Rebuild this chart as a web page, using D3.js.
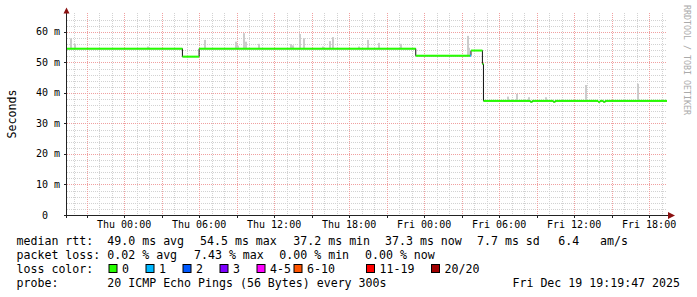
<!DOCTYPE html>
<html>
<head>
<meta charset="utf-8">
<style>
body { margin: 0; background: #fff; }
text { font-family: "DejaVu Sans Mono", monospace; fill: #000; }
.grid-minor line { stroke: #d2d2d2; stroke-dasharray: 1,1; }
.grid-major line { stroke: #f0a0a0; stroke-dasharray: 1,1; }
</style>
</head>
<body>
<svg width="697" height="297"></svg>
<script src="https://cdn.jsdelivr.net/npm/d3@7"></script>
<script>

// median rtt steps: value holds from its time until the next entry
var medianTimes = ["2025-12-17T19:26", "2025-12-18T04:40", "2025-12-18T06:00", "2025-12-18T23:20",
  "2025-12-19T03:40", "2025-12-19T03:45", "2025-12-19T04:40", "2025-12-19T04:45",
  "2025-12-19T08:30", "2025-12-19T08:40", "2025-12-19T10:20", "2025-12-19T10:30",
  "2025-12-19T13:55", "2025-12-19T14:05", "2025-12-19T14:20", "2025-12-19T14:30"];
var medianValues = [54.5, 51.9, 54.5, 52.2, 52.2, 53.9, 49.5, 37.4, 37.1, 37.4, 37.1, 37.4, 37.1, 37.4, 37.1, 37.4];
var medianLoss = [0, 0, 0, 0, 1, 0, 0, 0, 0, 0, 0, 0, 0, 0, 0, 0];

// smoke spikes: time and top of the spread (ms)
var smokeTimes = ["2025-12-17T19:40", "2025-12-17T20:00", "2025-12-18T01:50", "2025-12-18T06:25",
  "2025-12-18T08:50", "2025-12-18T09:00", "2025-12-18T09:30", "2025-12-18T09:40", "2025-12-18T10:45",
  "2025-12-18T13:15", "2025-12-18T13:25", "2025-12-18T14:00", "2025-12-18T14:20", "2025-12-18T15:50",
  "2025-12-18T16:25", "2025-12-18T16:40", "2025-12-18T18:45", "2025-12-18T19:25", "2025-12-18T20:20",
  "2025-12-18T22:05", "2025-12-19T03:25", "2025-12-19T03:30", "2025-12-19T06:40", "2025-12-19T07:20",
  "2025-12-19T08:20", "2025-12-19T09:40", "2025-12-19T12:50", "2025-12-19T17:00"];
var smokeTops = [57.9, 56.1, 55.2, 57.4, 56.8, 55.5, 59.6, 56.8, 56.1, 56.0, 55.6, 59.3, 57.9, 55.2,
  57.0, 58.3, 55.2, 57.4, 56.4, 56.1, 58.7, 54.8, 38.8, 39.7, 38.6, 38.6, 42.6, 43.0];

var rttValues = [49.0, 54.5, 37.2, 37.3];
var rttLabels = ["avg", "max", "min", "now"];
var rttSd = 7.7, rttAmps = 6.4;
var lossValues = [0.02, 7.43, 0.00, 0.00];
var lossLabels = ["avg", "max", "min", "now"];
var lossNames = ["0", "1", "2", "3", "4-5", "6-10", "11-19", "20/20"];
var lossHex = ["#26ff00", "#00b8ff", "#0059ff", "#7e00ff", "#ff00ff", "#ff5500", "#ff0000", "#a00000"];
var probeText = "20 ICMP Echo Pings (56 Bytes) every 300s";
var stampText = "Fri Dec 19 19:19:47 2025";

var svg = d3.select("svg");
var parse = d3.utcParse("%Y-%m-%dT%H:%M");
var start = parse("2025-12-17T19:26"), end = parse("2025-12-19T19:26");

var x = d3.scaleUtc().domain([start, end]).range([67, 667]);
var y = d3.scaleLinear().domain([0, 66.2]).range([215, 13]);

var steps = medianTimes.map(function(t, i) {
  return { t: parse(t), v: medianValues[i], loss: medianLoss[i] };
});

// grid
var gMinor = svg.append("g").attr("class", "grid-minor").attr("shape-rendering", "crispEdges");
var gMajor = svg.append("g").attr("class", "grid-major").attr("shape-rendering", "crispEdges");

var hours = x.ticks(d3.utcHour.every(1));
gMinor.selectAll("line.v").data(hours.filter(function(d) { return d.getUTCHours() % 3; }))
  .enter().append("line")
    .attr("x1", function(d) { return Math.round(x(d)) + 0.5; })
    .attr("x2", function(d) { return Math.round(x(d)) + 0.5; })
    .attr("y1", 13).attr("y2", 215);
gMinor.selectAll("line.h").data(d3.range(2, 66, 2).filter(function(d) { return d % 10; }))
  .enter().append("line")
    .attr("x1", 67).attr("x2", 667)
    .attr("y1", function(d) { return Math.round(y(d)) + 0.5; })
    .attr("y2", function(d) { return Math.round(y(d)) + 0.5; });

var majors = x.ticks(d3.utcHour.every(3));
gMajor.selectAll("line.v").data(majors)
  .enter().append("line")
    .attr("x1", function(d) { return Math.round(x(d)) + 0.5; })
    .attr("x2", function(d) { return Math.round(x(d)) + 0.5; })
    .attr("y1", 13).attr("y2", 215);
gMajor.selectAll("line.h").data([10, 20, 30, 40, 50, 60])
  .enter().append("line")
    .attr("x1", 67).attr("x2", 667)
    .attr("y1", function(d) { return Math.round(y(d)) + 0.5; })
    .attr("y2", function(d) { return Math.round(y(d)) + 0.5; });

// smoke
function medianAt(t) {
  var i = d3.bisector(function(d) { return d.t; }).right(steps, t) - 1;
  return steps[Math.max(0, i)].v;
}
svg.append("g").selectAll("rect")
  .data(smokeTimes.map(function(t, i) { return { t: parse(t), hi: smokeTops[i] }; }))
  .enter().append("rect")
    .attr("x", function(d) { return Math.round(x(d.t)); })
    .attr("width", 2)
    .attr("y", function(d) { return y(d.hi); })
    .attr("height", function(d) { return y(medianAt(d.t)) - y(d.hi); })
    .attr("fill", "#cccccc");

// median: thin dark step line, then coloured horizontal pieces
var stepLine = d3.line()
  .x(function(d) { return x(d.t); })
  .y(function(d) { return y(d.v); })
  .curve(d3.curveStepAfter);
svg.append("path")
  .datum(steps.concat([{ t: end, v: steps[steps.length - 1].v }]))
  .attr("d", stepLine)
  .attr("fill", "none")
  .attr("stroke", "#111")
  .attr("stroke-width", 1);

svg.append("g").selectAll("rect")
  .data(steps)
  .enter().append("rect")
    .attr("x", function(d) { return x(d.t); })
    .attr("width", function(d, i) { return x(i + 1 < steps.length ? steps[i + 1].t : end) - x(d.t); })
    .attr("y", function(d) { return y(d.v) - 1; })
    .attr("height", 2)
    .attr("fill", function(d) { return lossHex[d.loss]; });

// axes
var axis = svg.append("g").attr("shape-rendering", "crispEdges").attr("stroke", "#222");
axis.append("line").attr("x1", 66.5).attr("x2", 66.5).attr("y1", 12).attr("y2", 218);
axis.append("line").attr("x1", 64).attr("x2", 670).attr("y1", 215.5).attr("y2", 215.5);
axis.selectAll("line.xt").data(majors).enter().append("line")
  .attr("x1", function(d) { return Math.round(x(d)) + 0.5; })
  .attr("x2", function(d) { return Math.round(x(d)) + 0.5; })
  .attr("y1", 215).attr("y2", 218);
axis.selectAll("line.yt").data([10, 20, 30, 40, 50, 60]).enter().append("line")
  .attr("x1", 64).attr("x2", 67)
  .attr("y1", function(d) { return Math.round(y(d)) + 0.5; })
  .attr("y2", function(d) { return Math.round(y(d)) + 0.5; });

svg.append("path").attr("d", "M63.5,13.5L66.5,7.5L69.5,13.5Z").attr("fill", "#8b1111");
svg.append("path").attr("d", "M668,212L675,215.5L668,219Z").attr("fill", "#8b1111");

// tick labels
var fmt = d3.utcFormat("%a %H:%M");
svg.append("g").selectAll("text")
  .data(x.ticks(d3.utcHour.every(6)))
  .enter().append("text")
    .attr("x", function(d) { return x(d); })
    .attr("y", 228)
    .attr("text-anchor", "middle")
    .style("font-size", "10px")
    .text(fmt);

svg.append("g").selectAll("text")
  .data([0, 10, 20, 30, 40, 50, 60])
  .enter().append("text")
    .attr("x", function(d) { return d === 0 ? 48 : 60; })
    .attr("y", function(d) { return y(d) + 3.5; })
    .attr("text-anchor", "end")
    .style("font-size", "10px")
    .text(function(d) { return d === 0 ? "0" : d + " m"; });

svg.append("text")
  .attr("transform", "translate(15.5,114) rotate(-90)")
  .attr("text-anchor", "middle")
  .style("font-size", "11.6px")
  .text("Seconds");

svg.append("text")
  .attr("transform", "translate(684,5) rotate(90)")
  .style("font-size", "8.3px")
  .style("fill", "#aaaaaa")
  .text("RRDTOOL / TOBI OETIKER");

// legend
var leg = svg.append("g").style("font-size", "11.6px").attr("xml:space", "preserve");
function put(txt, px, py, anchor) {
  leg.append("text").attr("x", px).attr("y", py)
    .attr("text-anchor", anchor || "start")
    .style("white-space", "pre").text(txt);
}
var f1 = d3.format(".1f"), f2 = d3.format(".2f");

put("median rtt:", 16.5, 245);
[107.3, 200, 293.3, 385].forEach(function(px, i) {
  put(f1(rttValues[i]) + " ms " + rttLabels[i], px, 245);
});
put(f1(rttSd) + " ms sd", 477, 245);
put(f1(rttAmps), 558.3, 245);
put("am/s", 600, 245);

put("packet loss:", 16.5, 259);
[107.3, 194, 279.3, 365].forEach(function(px, i) {
  put(f2(lossValues[i]) + " % " + lossLabels[i], px, 259);
});

put("loss color:", 16.5, 273);
var boxX = [108.5, 145.5, 182.5, 219.5, 256.5, 293.5, 366, 431];
lossNames.forEach(function(n, i) {
  leg.append("rect").attr("x", boxX[i] + 0.5).attr("y", 264.5)
    .attr("width", 8).attr("height", 8)
    .attr("fill", lossHex[i]).attr("stroke", "#000").attr("stroke-width", 1);
  put(n, boxX[i] + 13.5, 273);
});

put("probe:", 16.5, 287);
put(probeText, 107.3, 287);
put(stampText, 680, 287, "end");

</script>
</body>
</html>
